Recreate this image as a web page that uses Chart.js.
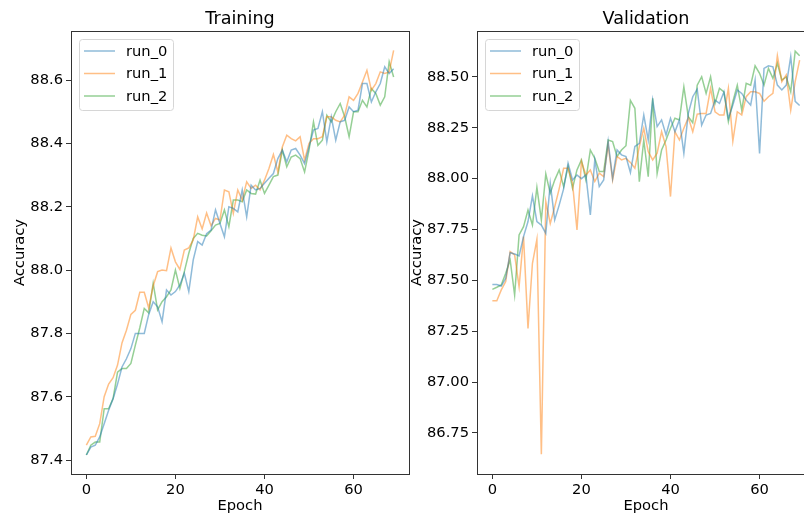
<!DOCTYPE html>
<html>
<head>
<meta charset="utf-8">
<script src="https://cdn.jsdelivr.net/npm/chart.js@4.4.0/dist/chart.umd.min.js"></script>
<style>
html, body { margin: 0; padding: 0; background: #fff; overflow: hidden; width: 804px; height: 517px; }
canvas { position: absolute; top: 0; }
#train { left: 0; }
#val { left: 400px; }
</style>
</head>
<body>
<canvas id="train" width="412" height="517"></canvas>
<canvas id="val" width="420" height="517"></canvas>
<script>
// Data
const epochs = [0, 1, 2, 3, 4, 5, 6, 7, 8, 9, 10, 11, 12, 13, 14, 15, 16, 17, 18, 19,
    20, 21, 22, 23, 24, 25, 26, 27, 28, 29, 30, 31, 32, 33, 34, 35, 36, 37, 38, 39,
    40, 41, 42, 43, 44, 45, 46, 47, 48, 49, 50, 51, 52, 53, 54, 55, 56, 57, 58, 59,
    60, 61, 62, 63, 64, 65, 66, 67, 68, 69];
const runNames = ['run_0', 'run_1', 'run_2'];
const runColors = ['rgba(31,119,180,0.5)', 'rgba(255,127,14,0.5)', 'rgba(44,160,44,0.5)'];

const trainRun0 = [87.416, 87.441, 87.447, 87.473, 87.515, 87.557, 87.594, 87.640, 87.694, 87.720,
    87.752, 87.800, 87.800, 87.800, 87.860, 87.900, 87.884, 87.837, 87.937, 87.921,
    87.932, 87.953, 87.990, 87.932, 88.032, 88.090, 88.079, 88.115, 88.126, 88.190,
    88.147, 88.105, 88.200, 88.195, 88.184, 88.253, 88.168, 88.268, 88.253, 88.258,
    88.274, 88.290, 88.305, 88.352, 88.379, 88.342, 88.379, 88.384, 88.363, 88.336,
    88.389, 88.442, 88.447, 88.500, 88.405, 88.484, 88.410, 88.468, 88.473, 88.515,
    88.500, 88.505, 88.589, 88.589, 88.531, 88.563, 88.589, 88.642, 88.621, 88.636];
const trainRun1 = [87.447, 87.473, 87.475, 87.515, 87.600, 87.640, 87.660, 87.700, 87.770, 87.810,
    87.860, 87.873, 87.930, 87.930, 87.880, 87.950, 87.995, 88.000, 87.998, 88.070,
    88.026, 88.002, 88.063, 88.070, 88.095, 88.168, 88.130, 88.180, 88.140, 88.163,
    88.158, 88.253, 88.247, 88.179, 88.253, 88.221, 88.279, 88.258, 88.268, 88.253,
    88.284, 88.321, 88.365, 88.310, 88.389, 88.426, 88.415, 88.408, 88.421, 88.347,
    88.400, 88.415, 88.415, 88.421, 88.484, 88.484, 88.473, 88.468, 88.489, 88.547,
    88.536, 88.558, 88.594, 88.631, 88.568, 88.589, 88.626, 88.621, 88.626, 88.694];
const trainRun2 = [87.416, 87.447, 87.457, 87.457, 87.562, 87.562, 87.594, 87.678, 87.689, 87.689,
    87.705, 87.763, 87.818, 87.879, 87.865, 87.958, 87.874, 87.900, 87.916, 87.937,
    88.000, 87.942, 87.995, 88.053, 88.100, 88.116, 88.110, 88.108, 88.124, 88.142,
    88.147, 88.190, 88.137, 88.221, 88.221, 88.216, 88.253, 88.242, 88.240, 88.284,
    88.242, 88.268, 88.295, 88.300, 88.379, 88.326, 88.357, 88.363, 88.352, 88.310,
    88.379, 88.468, 88.394, 88.410, 88.489, 88.468, 88.500, 88.526, 88.484, 88.421,
    88.500, 88.500, 88.536, 88.515, 88.573, 88.558, 88.521, 88.547, 88.658, 88.610];

const valRun0 = [87.480, 87.480, 87.472, 87.510, 87.636, 87.630, 87.620, 87.715, 87.789, 87.915,
    87.789, 87.772, 87.731, 87.977, 87.797, 87.870, 87.950, 88.076, 87.994, 88.018,
    88.000, 88.018, 87.822, 88.092, 87.961, 87.994, 88.182, 88.002, 88.141, 88.117,
    88.109, 88.030, 88.158, 88.174, 88.313, 88.190, 88.387, 88.256, 88.289, 88.215,
    88.297, 88.231, 88.289, 88.125, 88.321, 88.403, 88.440, 88.263, 88.313, 88.321,
    88.386, 88.370, 88.427, 88.296, 88.362, 88.436, 88.419, 88.386, 88.362, 88.485,
    88.124, 88.542, 88.555, 88.550, 88.460, 88.436, 88.460, 88.600, 88.380, 88.360];
const valRun1 = [87.400, 87.400, 87.453, 87.494, 87.641, 87.625, 87.469, 87.715, 87.264, 87.584,
    87.702, 86.645, 87.887, 87.780, 87.862, 87.950, 88.051, 88.051, 87.978, 87.748,
    88.084, 88.018, 88.043, 87.986, 88.027, 88.010, 88.166, 87.994, 88.109, 88.092,
    88.100, 88.080, 88.051, 88.158, 88.248, 88.133, 88.092, 88.125, 88.231, 88.158,
    87.912, 88.231, 88.190, 88.248, 88.300, 88.231, 88.317, 88.321, 88.321, 88.444,
    88.329, 88.313, 88.313, 88.444, 88.185, 88.329, 88.313, 88.403, 88.427, 88.427,
    88.419, 88.381, 88.403, 88.419, 88.604, 88.477, 88.510, 88.337, 88.477, 88.583];
const valRun2 = [87.456, 87.466, 87.477, 87.535, 87.600, 87.428, 87.723, 87.764, 87.846, 87.772,
    87.957, 87.797, 88.023, 87.928, 87.993, 88.043, 87.961, 88.060, 87.953, 88.043,
    88.092, 87.994, 88.141, 88.100, 88.035, 88.035, 88.190, 88.182, 88.109, 88.141,
    88.162, 88.385, 88.346, 87.985, 88.190, 88.010, 88.395, 88.026, 88.141, 88.190,
    88.248, 88.297, 88.289, 88.452, 88.305, 88.275, 88.460, 88.501, 88.419, 88.501,
    88.370, 88.444, 88.427, 88.280, 88.378, 88.460, 88.337, 88.469, 88.460, 88.555,
    88.518, 88.460, 88.542, 88.493, 88.567, 88.485, 88.500, 88.427, 88.627, 88.604];

const trainTicks = [87.4, 87.6, 87.8, 88.0, 88.2, 88.4, 88.6];
const valTicks = [86.75, 87.00, 87.25, 87.50, 87.75, 88.00, 88.25, 88.50];
const epochTicks = [0, 20, 40, 60];

Chart.defaults.font.family = '"DejaVu Sans", sans-serif';
Chart.defaults.font.size = 14.7;
Chart.defaults.color = '#000';

// axes box, title and legend drawn like matplotlib
const framePlugin = {
    id: 'frame',
    afterDraw(chart, args, opts) {
        const ctx = chart.ctx;
        const a = chart.chartArea;
        ctx.save();
        ctx.strokeStyle = '#333';
        ctx.lineWidth = 1;
        ctx.strokeRect(Math.round(a.left) + 0.5, Math.round(a.top) + 0.5,
            Math.round(a.right - a.left), Math.round(a.bottom - a.top));

        ctx.fillStyle = '#000';
        ctx.font = '17.6px "DejaVu Sans"';
        ctx.textAlign = 'center';
        ctx.textBaseline = 'middle';
        ctx.fillText(opts.title, (a.left + a.right) / 2, 19);

        // legend box
        const bx = a.left + 8, by = a.top + 8, bw = 94, bh = 71;
        ctx.beginPath();
        ctx.roundRect(bx + 0.5, by + 0.5, bw, bh, 3);
        ctx.fillStyle = 'rgba(255,255,255,0.8)';
        ctx.fill();
        ctx.strokeStyle = '#d6d6d6';
        ctx.stroke();
        ctx.font = '14.7px "DejaVu Sans"';
        ctx.textAlign = 'left';
        chart.data.datasets.forEach((ds, i) => {
            const y = by + 12 + i * 22.5;
            ctx.strokeStyle = ds.borderColor;
            ctx.lineWidth = 1.5;
            ctx.beginPath();
            ctx.moveTo(bx + 5, y);
            ctx.lineTo(bx + 36, y);
            ctx.stroke();
            ctx.fillStyle = '#000';
            ctx.fillText(ds.label, bx + 47, y + 1);
        });
        ctx.restore();
    }
};

function makeChart(id, runs, yTicks, yMin, yMax, yDigits, title, yWidth, yTitlePad, padRight) {
    const datasets = runs.map((run, i) => ({
        label: runNames[i],
        data: run.map((v, j) => ({ x: epochs[j], y: v })),
        borderColor: runColors[i],
        borderWidth: 1.5,
        pointRadius: 0,
        tension: 0,
        fill: false
    }));
    return new Chart(document.getElementById(id), {
        type: 'line',
        data: { datasets: datasets },
        options: {
            responsive: false,
            animation: false,
            layout: { padding: { top: 31, right: padRight, bottom: 0, left: 0 } },
            plugins: {
                legend: { display: false },
                tooltip: { enabled: false },
                frame: { title: title }
            },
            scales: {
                x: {
                    type: 'linear',
                    min: -3.45,
                    max: 72.45,
                    afterBuildTicks: s => { s.ticks = epochTicks.map(v => ({ value: v })); },
                    afterFit: s => { s.height = 43; },
                    ticks: { padding: 2, maxRotation: 0 },
                    grid: { drawOnChartArea: false, drawTicks: true, tickLength: 5, color: '#333' },
                    border: { display: false },
                    title: { display: true, text: 'Epoch', padding: { top: 0, bottom: 2 } }
                },
                y: {
                    type: 'linear',
                    min: yMin,
                    max: yMax,
                    afterBuildTicks: s => { s.ticks = yTicks.map(v => ({ value: v })); },
                    afterFit: s => { s.width = yWidth; },
                    ticks: { padding: 3, callback: v => Number(v).toFixed(yDigits) },
                    grid: { drawOnChartArea: false, drawTicks: true, tickLength: 5, color: '#333' },
                    border: { display: false },
                    title: { display: true, text: 'Accuracy', padding: { top: yTitlePad, bottom: 0 } }
                }
            }
        },
        plugins: [framePlugin]
    });
}

makeChart('train', [trainRun0, trainRun1, trainRun2], trainTicks, 87.356, 88.755, 1, 'Training', 71, 11.2, 3);
makeChart('val', [valRun0, valRun1, valRun2], valTicks, 86.548, 88.726, 2, 'Validation', 77, 8.2, 5);
</script>
</body>
</html>
